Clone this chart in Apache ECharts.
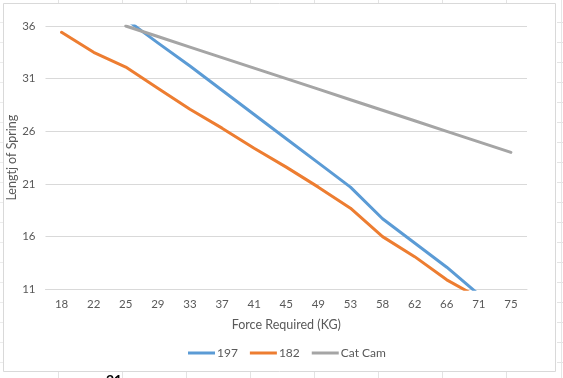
<!DOCTYPE html>
<html>
<head>
<meta charset="utf-8">
<script src="https://cdn.jsdelivr.net/npm/echarts@6/dist/echarts.min.js"></script>
<style>
html,body{margin:0;padding:0;background:#fff;}
#chart{width:563px;height:378px;}
</style>
</head>
<body>
<div id="chart"></div>
<script>
var categories = ['18','22','25','29','33','37','41','45','49','53','58','62','66','71','75'];
var series197 = [null, null, 36.65, 34.4, 32.2, 29.9, 27.6, 25.3, 23.0, 20.7, 17.7, 15.4, 13.1, 10.5, 8.0];
var series182 = [35.4, 33.5, 32.1, 30.1, 28.1, 26.3, 24.4, 22.6, 20.7, 18.7, 16.0, 14.1, 11.9, 10.2, 9.0];
var seriesCatCam = [null, null, 36, 35, 34, 33, 32, 31, 30, 29, 28, 27, 26, 25, 24];
var seriesNames = ['197', '182', 'Cat Cam'];
var seriesColors = ['#5B9BD5', '#ED7D31', '#A5A5A5'];
var yMin = 11, yMax = 36, yStep = 5;

var chart = echarts.init(document.getElementById('chart'), null, {renderer: 'canvas'});

var deco = [];
[58, 122, 186, 250, 314, 378, 442, 506].forEach(function (x) {
  deco.push({type: 'line', silent: true, shape: {x1: x + 0.5, y1: 0, x2: x + 0.5, y2: 3}, style: {stroke: '#e3e3e3', lineWidth: 1}});
  deco.push({type: 'line', silent: true, shape: {x1: x + 0.5, y1: 372, x2: x + 0.5, y2: 378}, style: {stroke: '#e3e3e3', lineWidth: 1}});
});
for (var ry = 22; ry < 378; ry += 20) {
  deco.push({type: 'line', silent: true, shape: {x1: 557, y1: ry + 0.5, x2: 563, y2: ry + 0.5}, style: {stroke: '#e3e3e3', lineWidth: 1}});
  deco.push({type: 'line', silent: true, shape: {x1: 0, y1: ry + 0.5, x2: 3, y2: ry + 0.5}, style: {stroke: '#ececec', lineWidth: 1}});
}
deco.push({type: 'line', silent: true, shape: {x1: 561.5, y1: 0, x2: 561.5, y2: 378}, style: {stroke: '#e6e6e6', lineWidth: 1}});
deco.push({type: 'rect', silent: true, shape: {x: 3.5, y: 3.5, width: 552, height: 368}, style: {fill: 'none', stroke: '#d9d9d9', lineWidth: 1}});
deco.push({type: 'text', silent: true, left: 106, top: 373, style: {text: '21', font: 'bold 14px Lato', fill: '#000'}});

var series = [series197, series182, seriesCatCam].map(function (d, i) {
  return {
    name: seriesNames[i],
    type: 'line',
    data: d,
    symbol: 'none',
    showSymbol: false,
    clip: true,
    connectNulls: false,
    lineStyle: {width: 3, color: seriesColors[i], cap: 'round', join: 'round'},
    itemStyle: {color: seriesColors[i]},
    emphasis: {disabled: true}
  };
});

chart.setOption({
  animation: false,
  backgroundColor: '#fff',
  textStyle: {fontFamily: 'Lato'},
  grid: {left: 45.5, top: 26, width: 481.5, height: 263.3, containLabel: false, outerBoundsMode: 'none'},
  legend: {
    data: seriesNames,
    top: 347,
    left: 188,
    padding: 0,
    icon: 'rect',
    itemWidth: 27,
    itemHeight: 3,
    itemGap: 12,
    textStyle: {color: '#595959', fontSize: 12, fontFamily: 'Lato', padding: [0, 0, 0, -3]}
  },
  xAxis: {
    type: 'category',
    data: categories,
    boundaryGap: true,
    name: 'Force Required (KG)',
    nameLocation: 'middle',
    nameGap: 29,
    nameTextStyle: {color: '#595959', fontSize: 12.5, fontFamily: 'Lato'},
    axisLine: {show: true, lineStyle: {color: '#d9d9d9', width: 1}},
    axisTick: {show: false},
    axisLabel: {color: '#595959', fontSize: 11.5, margin: 9, interval: 0, fontFamily: 'Lato'},
    splitLine: {show: false}
  },
  yAxis: {
    type: 'value',
    min: yMin,
    max: yMax,
    interval: yStep,
    name: 'Lengtj of Spring',
    nameLocation: 'middle',
    nameGap: 27,
    nameMoveOverlap: false,
    nameTextStyle: {color: '#595959', fontSize: 12.5, fontFamily: 'Lato'},
    axisLine: {show: false},
    axisTick: {show: false},
    axisLabel: {color: '#595959', fontSize: 11.5, margin: 10, fontFamily: 'Lato'},
    splitLine: {show: true, lineStyle: {color: '#d9d9d9', width: 1}}
  },
  graphic: deco,
  series: series
});
</script>
</body>
</html>
